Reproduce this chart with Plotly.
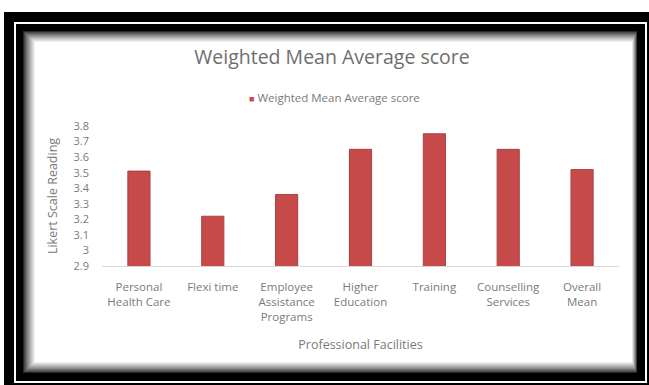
import plotly.graph_objects as go

# Survey results: weighted mean Likert score per professional facility
categories = [
    "Personal<br>Health Care",
    "Flexi time",
    "Employee<br>Assistance<br>Programs",
    "Higher<br>Education",
    "Training",
    "Counselling<br>Services",
    "Overall<br>Mean",
]
scores = [3.51, 3.22, 3.36, 3.65, 3.75, 3.65, 3.52]
y_ticks = [2.9, 3.0, 3.1, 3.2, 3.3, 3.4, 3.5, 3.6, 3.7, 3.8]
series_name = "Weighted Mean Average score"
bar_color = "#c64a4a"

W, H = 649, 385
ML, MR, MT, MB = 102, 30, 126, 119
PW, PH = W - ML - MR, H - MT - MB


def px(x):
    return (x - ML) / PW


def py(y):
    return (H - MB - y) / PH


def rect(x0, y0, x1, y1, fill, line=None, lw=0):
    return dict(
        type="rect", xref="paper", yref="paper", layer="below",
        x0=px(x0), x1=px(x1), y0=py(y1), y1=py(y0),
        fillcolor=fill, line=dict(color=line or fill, width=lw),
    )


shapes = [
    rect(4, 12, 649, 385, "#000000"),
    rect(15, 23, 646, 382, "#000000", "#ffffff", 2),
]
# inner panel whose edges fade from dark to white
steps = 12
outer = (23, 31, 637, 373)
inner = (35, 42, 632, 362)
for i in range(steps + 1):
    t = i / steps
    x0 = outer[0] + (inner[0] - outer[0]) * t
    y0 = outer[1] + (inner[1] - outer[1]) * t
    x1 = outer[2] + (inner[2] - outer[2]) * t
    y1 = outer[3] + (inner[3] - outer[3]) * t
    g = int(40 + (255 - 40) * (t ** 0.8))
    shapes.append(rect(x0, y0, x1, y1, f"rgb({g},{g},{g})"))

font_family = "Open Sans, Liberation Sans, sans-serif"
text_grey = "#7a7a7a"

fig = go.Figure(
    go.Bar(
        x=categories,
        y=scores,
        name=series_name,
        marker=dict(color=bar_color, line=dict(color="#a94141", width=1)),
        showlegend=False,
    )
)

# series key above the plot
fig.add_annotation(
    xref="paper", yref="paper",
    x=px(334), y=py(97), xanchor="center", yanchor="middle",
    showarrow=False,
    text=f"<span style='color:{bar_color};font-size:9px'>■</span> {series_name}",
    font=dict(size=11.5, color=text_grey, family=font_family),
)

fig.update_layout(
    width=W,
    height=H,
    margin=dict(l=ML, r=MR, t=MT, b=MB),
    paper_bgcolor="#ffffff",
    plot_bgcolor="rgba(0,0,0,0)",
    shapes=shapes,
    bargap=0.7,
    showlegend=False,
    font=dict(family=font_family, color=text_grey, size=11),
    title=dict(
        text=series_name,
        x=332 / W, xanchor="center",
        y=1 - 57 / H, yanchor="middle",
        font=dict(size=19.5, color="#6e6e6e", family=font_family),
    ),
    xaxis=dict(
        showline=True,
        linecolor="#d9d9d9",
        linewidth=1,
        showgrid=False,
        ticks="",
        ticklabelstandoff=10,
        tickfont=dict(size=11.5, color=text_grey),
        title=dict(text="Professional Facilities", standoff=17,
                   font=dict(size=12.5, color=text_grey)),
    ),
    yaxis=dict(
        range=[2.9, 3.8],
        tickvals=y_ticks,
        ticktext=[f"{v:g}" for v in y_ticks],
        showgrid=False,
        zeroline=False,
        showline=False,
        ticks="",
        ticklabelstandoff=12,
        tickfont=dict(size=11, color=text_grey),
        title=dict(text="Likert Scale Reading", standoff=13,
                   font=dict(size=12.5, color=text_grey)),
    ),
)

fig.write_html("out.html")
